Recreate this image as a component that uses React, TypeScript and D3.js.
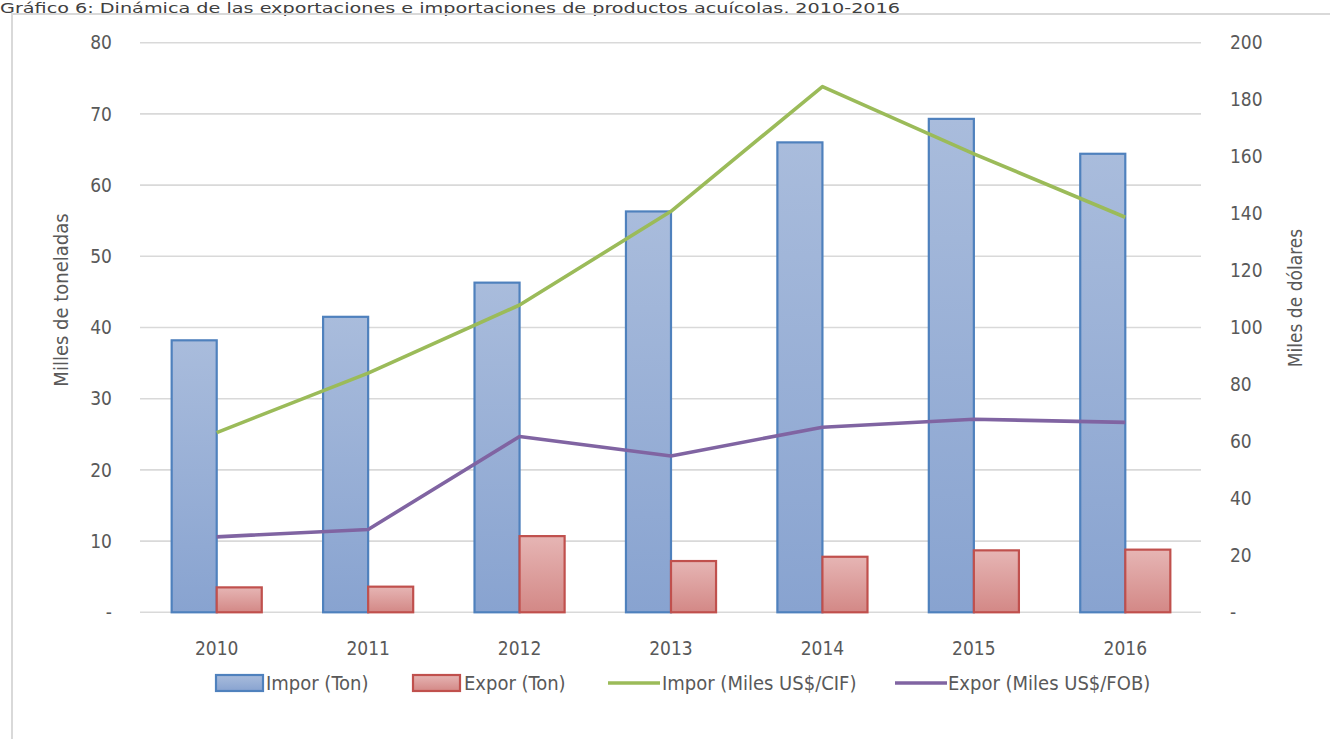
import React from "react";
import * as d3 from "d3";

const years = ["2010", "2011", "2012", "2013", "2014", "2015", "2016"];
// Thousands of tonnes (left axis)
const imporTon = [38.2, 41.5, 46.3, 56.3, 66.0, 69.3, 64.4];
const exporTon = [3.5, 3.6, 10.7, 7.2, 7.8, 8.7, 8.8];
// Thousands of US$ (right axis)
const imporUSD = [63.1, 84.0, 107.9, 140.8, 184.6, 161.0, 138.7];
const exporUSD = [26.5, 29.1, 61.7, 54.9, 65.0, 67.8, 66.7];

const leftTicks = [0, 10, 20, 30, 40, 50, 60, 70, 80];
const rightTicks = [0, 20, 40, 60, 80, 100, 120, 140, 160, 180, 200];

const title =
  "Gráfico 6: Dinámica de las exportaciones e importaciones de productos acuícolas, 2010-2016";

const W = 1330;
const H = 739;
const plot = { left: 141, right: 1201, top: 42.7, bottom: 612.3 };
const FONT = "'DejaVu Sans Condensed', 'DejaVu Sans', sans-serif";
const TEXT = "#595959";

export default function App() {
  const x = d3
    .scaleBand<string>()
    .domain(years)
    .range([plot.left, plot.right])
    .paddingInner(0.405)
    .paddingOuter(0.2025);
  const sub = d3.scaleBand<string>().domain(["impor", "expor"]).range([0, x.bandwidth()]);
  const yL = d3.scaleLinear().domain([0, 80]).range([plot.bottom, plot.top]);
  const yR = d3.scaleLinear().domain([0, 200]).range([plot.bottom, plot.top]);
  const cx = (y: string) => (x(y) ?? 0) + x.bandwidth() / 2;

  const line = d3
    .line<number>()
    .x((_, i) => cx(years[i]))
    .y((v) => yR(v));

  const fmt = (v: number) => (v === 0 ? "-" : String(v));

  const legend = [
    { kind: "bar", label: "Impor (Ton)", fill: "url(#gImpor)", stroke: "#4f81bd", x: 216, tx: 266 },
    { kind: "bar", label: "Expor (Ton)", fill: "url(#gExpor)", stroke: "#c0504d", x: 413, tx: 464 },
    { kind: "line", label: "Impor (Miles US$/CIF)", stroke: "#9bbb59", x: 608, tx: 662 },
    { kind: "line", label: "Expor (Miles US$/FOB)", stroke: "#8064a2", x: 895, tx: 948 },
  ];

  return (
    <svg
      width={W}
      height={H}
      style={{ position: "absolute", left: 0, top: 0, background: "#fff" }}
      fontFamily={FONT}
    >
      <defs>
        <linearGradient id="gImpor" x1="0" y1="0" x2="0" y2="1">
          <stop offset="0" stopColor="#a9bcdc" />
          <stop offset="1" stopColor="#88a3d0" />
        </linearGradient>
        <linearGradient id="gExpor" x1="0" y1="0" x2="0" y2="1">
          <stop offset="0" stopColor="#e6b5b4" />
          <stop offset="1" stopColor="#d38886" />
        </linearGradient>
      </defs>

      <rect x={0} y={0} width={W} height={H} fill="#fff" />
      {/* title */}
      <text
        x={0}
        y={13}
        fontSize={14}
        fill="#404040"
        textLength={900}
        lengthAdjust="spacingAndGlyphs"
      >
        {title}
      </text>
      {/* outer frame */}
      <path d={`M12,${H + 5} V14 H${W + 5}`} fill="none" stroke="#d9d9d9" strokeWidth={2} />

      {/* gridlines */}
      {leftTicks.map((t) => (
        <line
          key={t}
          x1={plot.left - 1}
          x2={plot.right}
          y1={yL(t)}
          y2={yL(t)}
          stroke="#d9d9d9"
          strokeWidth={1.6}
        />
      ))}

      {/* left axis */}
      {leftTicks.map((t) => (
        <text
          key={t}
          x={112}
          y={yL(t)}
          dy="0.35em"
          textAnchor="end"
          fontSize={19}
          fill={TEXT}
        >
          {fmt(t)}
        </text>
      ))}
      <text
        transform={`translate(68,300) rotate(-90)`}
        textAnchor="middle"
        fontSize={20}
        fill={TEXT}
      >
        Milles de toneladas
      </text>

      {/* right axis */}
      {rightTicks.map((t) => (
        <text key={t} x={1230} y={yR(t)} dy="0.35em" textAnchor="start" fontSize={19} fill={TEXT}>
          {fmt(t)}
        </text>
      ))}
      <text
        transform={`translate(1302,298) rotate(-90)`}
        textAnchor="middle"
        fontSize={19}
        fill={TEXT}
      >
        Miles de dólares
      </text>

      {/* bars */}
      {years.map((y, i) => (
        <g key={y}>
          <rect
            x={(x(y) ?? 0) + (sub("impor") ?? 0)}
            y={yL(imporTon[i])}
            width={sub.bandwidth()}
            height={yL(0) - yL(imporTon[i])}
            fill="url(#gImpor)"
            stroke="#4f81bd"
            strokeWidth={2.2}
          />
          <rect
            x={(x(y) ?? 0) + (sub("expor") ?? 0)}
            y={yL(exporTon[i])}
            width={sub.bandwidth()}
            height={yL(0) - yL(exporTon[i])}
            fill="url(#gExpor)"
            stroke="#c0504d"
            strokeWidth={2.2}
          />
        </g>
      ))}

      {/* lines */}
      <path d={line(imporUSD) ?? ""} fill="none" stroke="#9bbb59" strokeWidth={3.6} strokeLinejoin="round" />
      <path d={line(exporUSD) ?? ""} fill="none" stroke="#8064a2" strokeWidth={3.6} strokeLinejoin="round" />

      {/* x axis labels */}
      {years.map((y) => (
        <text key={y} x={cx(y)} y={648} dy="0.35em" textAnchor="middle" fontSize={19} fill={TEXT}>
          {y}
        </text>
      ))}

      {/* legend */}
      {legend.map((l) => (
        <g key={l.label}>
          {l.kind === "bar" ? (
            <rect x={l.x} y={675} width={47} height={16} fill={l.fill} stroke={l.stroke} strokeWidth={2.2} />
          ) : (
            <line x1={l.x} x2={l.x + 52} y1={683} y2={683} stroke={l.stroke} strokeWidth={3.6} />
          )}
          <text x={l.tx} y={683} dy="0.35em" fontSize={20} fill={TEXT}>
            {l.label}
          </text>
        </g>
      ))}
    </svg>
  );
}
